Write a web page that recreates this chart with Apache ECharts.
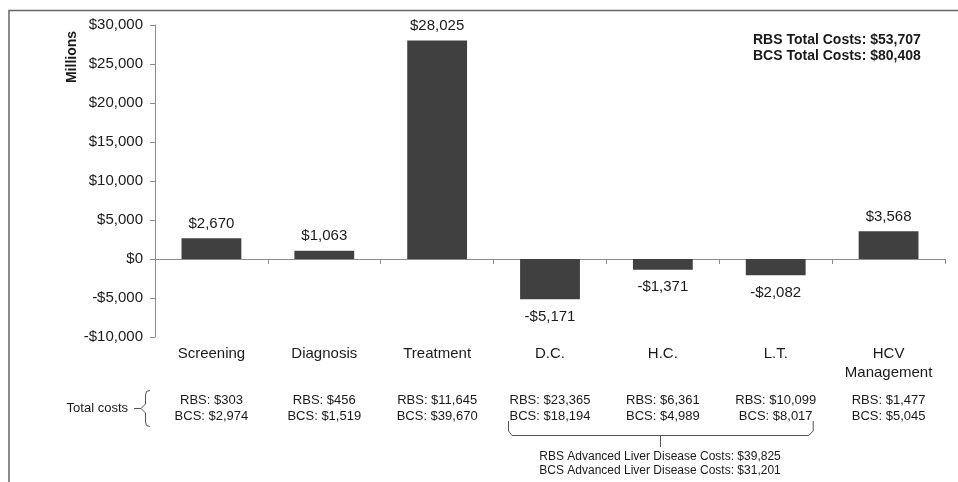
<!DOCTYPE html>
<html>
<head>
<meta charset="utf-8">
<script src="https://cdn.jsdelivr.net/npm/echarts@6/dist/echarts.min.js"></script>
<style>
html, body { margin: 0; padding: 0; background: #fff; }
#main { width: 958px; height: 482px; }
</style>
</head>
<body>
<div id="main"></div>
<script>
var categories = ['Screening', 'Diagnosis', 'Treatment', 'D.C.', 'H.C.', 'L.T.', 'HCV\nManagement'];
var savings = [2670, 1063, 28025, -5171, -1371, -2082, 3568];
var rbsCosts = ['$303', '$456', '$11,645', '$23,365', '$6,361', '$10,099', '$1,477'];
var bcsCosts = ['$2,974', '$1,519', '$39,670', '$18,194', '$4,989', '$8,017', '$5,045'];
var totalNotes = ['RBS Total Costs: $53,707', 'BCS Total Costs: $80,408'];
var liverNotes = ['RBS Advanced Liver Disease Costs: $39,825', 'BCS Advanced Liver Disease Costs: $31,201'];

var font = 'Liberation Sans, Arial, sans-serif';
var txt = '#1a1a1a';
var lineCol = '#8c8c8c';

function money(v) {
  var s = '$' + Math.abs(v).toLocaleString('en-US');
  return v < 0 ? '-' + s : s;
}

var chart = echarts.init(document.getElementById('main'));
var option = {
  animation: false,
  textStyle: { fontFamily: font },
  grid: { left: 155, right: 13, top: 25, bottom: 145 },
  xAxis: [
    {
      type: 'category', data: categories, position: 'bottom',
      axisLine: { show: false, onZero: false }, axisTick: { show: false },
      axisLabel: { interval: 0, color: txt, fontSize: 15, fontFamily: font, margin: 7, lineHeight: 19, verticalAlign: 'top' }
    },
    {
      type: 'category', data: categories, position: 'bottom',
      axisLine: { onZero: true, lineStyle: { color: lineCol, width: 1 } },
      axisTick: { show: true, interval: 0, length: 5, lineStyle: { color: lineCol } },
      axisLabel: { show: false }
    },
    {
      type: 'category', data: categories, position: 'bottom', offset: 47,
      axisLine: { show: false, onZero: false }, axisTick: { show: false },
      axisLabel: {
        interval: 0, color: txt, fontSize: 13, fontFamily: font, margin: 8, lineHeight: 16, verticalAlign: 'top',
        formatter: function (v, i) { return 'RBS: ' + rbsCosts[i] + '\nBCS: ' + bcsCosts[i]; }
      }
    }
  ],
  yAxis: {
    type: 'value', min: -10000, max: 30000, interval: 5000,
    axisLine: { show: true, lineStyle: { color: lineCol } },
    axisTick: { show: true, length: 5, lineStyle: { color: lineCol } },
    splitLine: { show: false },
    axisLabel: { color: txt, fontSize: 15, fontFamily: font, margin: 12, formatter: money }
  },
  series: [{
    type: 'bar',
    xAxisIndex: 0,
    barWidth: '53%',
    itemStyle: { color: '#404040' },
    label: { show: true, color: txt, fontSize: 15, fontFamily: font, distance: 7, formatter: function (p) { return money(p.value); } },
    data: savings.map(function (v) {
      return { value: v, label: { position: v < 0 ? 'bottom' : 'top', distance: v < 0 ? 10 : 7 } };
    })
  }]
};
chart.setOption(option);

// annotations: frame, axis name, totals, bracket under the liver disease categories
var dc = chart.convertToPixel({ xAxisIndex: 0 }, categories[3]);
var lt = chart.convertToPixel({ xAxisIndex: 0 }, categories[5]);
var bx0 = dc - 42, bx1 = lt + 37, bmid = Math.round((bx0 + bx1) / 2);
var stroke = { stroke: '#555', lineWidth: 1, fill: null };

chart.setOption({
  graphic: [
    { type: 'polyline', shape: { points: [[9, 490], [9, 10.5], [960, 10.5]] }, style: { stroke: '#666', lineWidth: 1.5, fill: null } },
    { type: 'text', x: 72, y: 57, rotation: Math.PI / 2, style: { text: 'Millions', font: 'bold 14px ' + font, fill: txt, align: 'center', verticalAlign: 'middle' } },
    { type: 'text', x: 753, y: 48, style: { text: totalNotes.join('\n'), font: 'bold 14px ' + font, lineHeight: 16, fill: txt, verticalAlign: 'middle' } },
    { type: 'text', x: 128, y: 408, style: { text: 'Total costs', font: '13px ' + font, fill: txt, align: 'right', verticalAlign: 'middle' } },
    { type: 'polyline', shape: { points: [[134, 408.5], [141, 408.5]] }, style: stroke },
    { type: 'polyline', shape: { points: [[150, 390.5], [146.5, 391.5], [145.5, 395], [145.5, 404], [141, 408.5], [145.5, 413], [145.5, 422], [146.5, 425.5], [150, 426.5]] }, style: stroke },
    { type: 'polyline', shape: { points: [[bx0 + 0.5, 421], [bx0 + 0.5, 431], [bx0 + 4, 435.5], [bx1 - 4, 435.5], [bx1 + 0.5, 431], [bx1 + 0.5, 421]] }, style: stroke },
    { type: 'polyline', shape: { points: [[bmid + 0.5, 435.5], [bmid + 0.5, 447]] }, style: stroke },
    { type: 'text', x: bmid, y: 464, style: { text: liverNotes.join('\n'), font: '12px ' + font, lineHeight: 14, fill: txt, align: 'center', verticalAlign: 'middle' } }
  ]
});
</script>
</body>
</html>
